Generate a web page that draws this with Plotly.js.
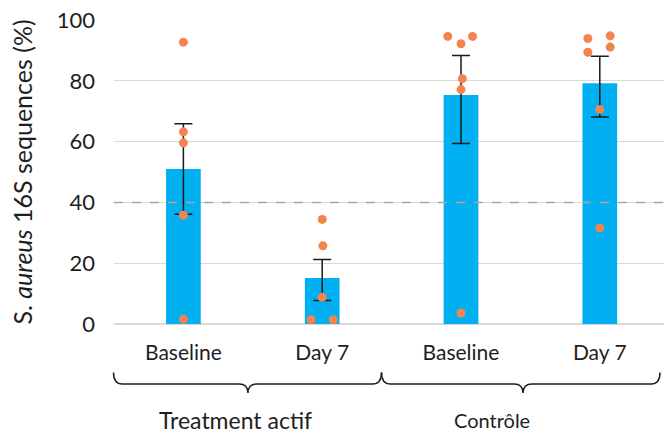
<!DOCTYPE html>
<html>
<head>
<meta charset="utf-8">
<script src="https://cdn.plot.ly/plotly-3.0.1.min.js"></script>
<style>html,body{margin:0;padding:0;background:#fff;}#chart{width:664px;height:433px;}</style>
</head>
<body>
<div id="chart"></div>
<script>
// ---- data ----
const categories = ['Baseline', 'Day 7', 'Baseline', 'Day 7'];
const groups = ['Treatment actif', 'Contrôle'];
const means = [51.0, 15.1, 75.3, 79.2];
const errPlus = [14.9, 6.1, 13.0, 8.9];
const errMinus = [14.9, 7.4, 15.9, 11.1];
const points0 = [92.7, 63.2, 59.6, 35.8, 1.6];
const points1 = [34.4, 25.7, 8.8, 1.4, 1.4];
const points2 = [94.6, 92.2, 94.6, 80.7, 77.1, 3.6];
const points3 = [93.9, 89.4, 94.8, 91.1, 70.6, 31.6];
const jitter0 = [0, 0, 0, 0, 0];
const jitter1 = [0, 0.005, 0, -0.08, 0.08];
const jitter2 = [-0.095, 0, 0.083, 0.01, 0, 0];
const jitter3 = [-0.086, -0.086, 0.075, 0.075, 0, 0];
const threshold = 40;
const yTicks = [0, 20, 40, 60, 80, 100];

const pointSets = [points0, points1, points2, points3];
const jitterSets = [jitter0, jitter1, jitter2, jitter3];
const idx = categories.map((c, i) => i);

const ptX = [], ptY = [];
pointSets.forEach((arr, i) => arr.forEach((v, k) => { ptX.push(i + jitterSets[i][k]); ptY.push(v); }));

const FONT = 'Lato, "Liberation Sans", sans-serif';
const TXT = '#1e1e1e';

// plot area geometry (pixels) used for decoration placement
const L = 114, R = 0, T = 20, B = 109, W = 664, H = 433;
const PW = W - L - R, PH = H - T - B;
const px = v => (v - L) / PW;
const py = v => (T + PH - v) / PH;

function brace(x0, x1, xm) {
  const yTop = 372.5, yMid = 384, yTip = 393, r = 9;
  const P = (x, y) => px(x).toFixed(5) + ',' + py(y).toFixed(5);
  return 'M' + P(x0, yTop) + ' Q' + P(x0, yMid) + ' ' + P(x0 + r, yMid) +
    ' L' + P(xm - r, yMid) + ' Q' + P(xm, yMid) + ' ' + P(xm, yTip) +
    ' Q' + P(xm, yMid) + ' ' + P(xm + r, yMid) +
    ' L' + P(x1 - r, yMid) + ' Q' + P(x1, yMid) + ' ' + P(x1, yTop);
}

const traces = [
  {
    type: 'bar', x: idx, y: means,
    marker: { color: '#00B0F0' },
    error_y: { type: 'data', symmetric: false, array: errPlus, arrayminus: errMinus,
               color: '#1a1a1a', thickness: 1.5, width: 9 },
    hoverinfo: 'skip'
  },
  {
    type: 'scatter', mode: 'markers', x: ptX, y: ptY,
    marker: { color: '#F4844F', size: 9, line: { width: 0 } },
    cliponaxis: false, hoverinfo: 'skip'
  }
];

const layout = {
  width: W, height: H,
  margin: { l: L, r: R, t: T, b: B, pad: 0 },
  paper_bgcolor: '#ffffff', plot_bgcolor: '#ffffff',
  showlegend: false,
  bargap: 0.75,
  font: { family: FONT, color: TXT, size: 20 },
  xaxis: {
    range: [-0.5, -0.5 + PW / 138.8],
    tickvals: idx, ticktext: categories,
    showgrid: false, zeroline: false, showline: false, ticks: '',
    tickfont: { family: FONT, size: 21, color: TXT },
    ticklabelstandoff: 14
  },
  yaxis: {
    range: [0, 100], tickvals: yTicks,
    showgrid: true, gridcolor: '#d9d9d9', gridwidth: 1.3,
    zeroline: true, zerolinecolor: '#d9d9d9', zerolinewidth: 1.3,
    showline: false, ticks: '',
    tickfont: { family: FONT, size: 22, color: TXT },
    ticklabelstandoff: 18,
    title: { text: 'S. <i>aureus</i> 16S sequences (%)', font: { family: FONT, size: 25, color: TXT }, standoff: 16 }
  },
  shapes: [
    { type: 'line', xref: 'paper', yref: 'y', x0: 0, x1: 1, y0: threshold, y1: threshold,
      line: { color: '#a6a6a6', width: 1.5, dash: 'dash' }, layer: 'above' },
    { type: 'path', xref: 'paper', yref: 'paper', path: brace(113.5, 381.5, 248), line: { color: TXT, width: 1.5 } },
    { type: 'path', xref: 'paper', yref: 'paper', path: brace(381.5, 660, 523), line: { color: TXT, width: 1.5 } }
  ],
  annotations: [
    { xref: 'paper', yref: 'paper', x: px(235), y: py(420), text: groups[0], showarrow: false,
      xanchor: 'center', yanchor: 'middle', borderpad: 0, font: { family: FONT, size: 23, color: TXT } },
    { xref: 'paper', yref: 'paper', x: px(492), y: py(420), text: groups[1], showarrow: false,
      xanchor: 'center', yanchor: 'middle', borderpad: 0, font: { family: FONT, size: 20, color: TXT } }
  ]
};

Plotly.newPlot('chart', traces, layout, { staticPlot: true, displayModeBar: false });
</script>
</body>
</html>
